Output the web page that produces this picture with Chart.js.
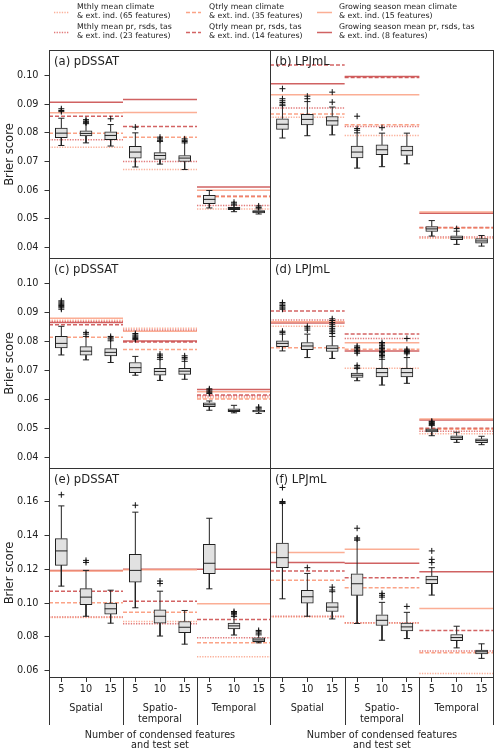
<!DOCTYPE html>
<html><head><meta charset="utf-8">
<script src="https://cdn.jsdelivr.net/npm/chart.js@4.4.1/dist/chart.umd.min.js"></script>
<style>
html,body{margin:0;padding:0;background:#fff;width:500px;height:754px;overflow:hidden;position:relative;font-family:'DejaVu Sans',sans-serif;}
#legendSw{position:absolute;}
.wrap{position:absolute;}
.lg{position:absolute;font-size:7.8px;line-height:8.7px;color:#222;white-space:nowrap;}
</style></head><body>
<canvas id="legendSw" width="500" height="45" style="left:0;top:0"></canvas>
<script>
// ---------------- DATA ----------------
const categories = ['5','10','15','5','10','15','5','10','15'];
const groupLabels = [['Spatial'], ['Spatio-','temporal'], ['Temporal']];
const yTicksUpper = [0.04,0.05,0.06,0.07,0.08,0.09,0.10];
const yTicksLower = [0.06,0.08,0.10,0.12,0.14,0.16];
const seriesNames = [
  ['Mthly mean climate','& ext. ind. (65 features)'],
  ['Mthly mean pr, rsds, tas','& ext. ind. (23 features)'],
  ['Qtrly mean climate','& ext. ind. (35 features)'],
  ['Qtrly mean pr, rsds, tas','& ext. ind. (14 features)'],
  ['Growing season mean climate','& ext. ind. (15 features)'],
  ['Growing season mean pr, rsds, tas','& ext. ind. (8 features)']
];
const panelTitles = ['(a) pDSSAT','(b) LPJmL','(c) pDSSAT','(d) LPJmL','(e) pDSSAT','(f) LPJmL'];

// boxes: [whisker low, q1, median, q3, whisker high] for the 9 boxes
const aBoxes = [[0.0756,0.0783,0.0799,0.0817,0.0851],[0.0765,0.0789,0.0798,0.0807,0.0832],[0.0754,0.0776,0.0791,0.0804,0.0829],
  [0.0681,0.0712,0.0733,0.0753,0.0800],[0.0691,0.0707,0.0721,0.0731,0.0770],[0.0672,0.0700,0.0712,0.0721,0.0765],
  [0.0538,0.0553,0.0568,0.0582,0.0599],[0.0525,0.0532,0.0536,0.0540,0.0548],[0.0517,0.0521,0.0525,0.0529,0.0535]];
const aFliers = [[0.0884,0.0878,0.0874],[0.0846,0.0841,0.0838,0.0835],[0.0849],[0.0820],[0.0785,0.0779,0.0774],[0.0779,0.0774,0.0770],[],[0.0552,0.0558],[0.0540,0.0545]];
// lines per group: [mthly clim, mthly pr, qtrly clim, qtrly pr, gs clim, gs pr]
const aLines = [[0.0750,0.0776,0.0799,0.0858,0.0870,0.0907],[0.0672,0.0700,0.0785,0.0822,0.0871,0.0916],[0.0534,0.0547,0.0577,0.0579,0.0600,0.0611]];

const bBoxes = [[0.0782,0.0812,0.0830,0.0849,0.0895],[0.0790,0.0828,0.0847,0.0865,0.0909],[0.0793,0.0826,0.0842,0.0857,0.0890],
  [0.0677,0.0713,0.0733,0.0754,0.0800],[0.0682,0.0724,0.0741,0.0758,0.0799],[0.0692,0.0721,0.0738,0.0754,0.0799],
  [0.0440,0.0456,0.0465,0.0473,0.0494],[0.0411,0.0427,0.0434,0.0441,0.0457],[0.0405,0.0415,0.0423,0.0431,0.0442]];
const bFliers = [[0.0954,0.0919,0.0912,0.0906,0.0900],[0.0928,0.0919],[0.0942,0.0907],[0.0858,0.0815,0.0809],[0.0818],[],[],[0.0466],[]];
const bLines = [[0.0854,0.0887,0.0866,0.1037,0.0933,0.0971],[0.0791,0.0822,0.0828,0.0993,0.0933,0.0997],[0.0432,0.0437,0.0468,0.0470,0.0524,0.0520]];

const cBoxes = [[0.0754,0.0778,0.0794,0.0818,0.0853],[0.0737,0.0753,0.0767,0.0783,0.0818],[0.0728,0.0751,0.0763,0.0776,0.0803],
  [0.0684,0.0693,0.0710,0.0728,0.0749],[0.0666,0.0684,0.0697,0.0708,0.0739],[0.0670,0.0687,0.0698,0.0708,0.0732],
  [0.0563,0.0575,0.0582,0.0589,0.0595],[0.0554,0.0558,0.0562,0.0568,0.0580],[0.0552,0.0557,0.0560,0.0563,0.0567]];
const cFliers = [[0.0912,0.0917,0.0921,0.0925,0.0929,0.0933,0.0937,0.0941],[0.0832,0.0826],[0.0818,0.0813,0.0809],
  [0.0807,0.0811,0.0815,0.0819,0.0823,0.0828],[0.0757,0.0751,0.0745],[0.0751,0.0745,0.0740],
  [0.0621,0.0625,0.0629,0.0633,0.0637],[],[0.0571,0.0574]];
const cLines = [[0.0874,0.0870,0.0815,0.0858,0.0881,0.0866],[0.0846,0.0840,0.0773,0.0799,0.0836,0.0802],[0.0606,0.0612,0.0602,0.0616,0.0627,0.0635]];

const dBoxes = [[0.0768,0.0783,0.0794,0.0803,0.0826],[0.0745,0.0772,0.0785,0.0797,0.0826],[0.0742,0.0766,0.0777,0.0786,0.0818],
  [0.0665,0.0676,0.0684,0.0691,0.0707],[0.0650,0.0678,0.0693,0.0708,0.0739],[0.0656,0.0678,0.0693,0.0708,0.0745],
  [0.0475,0.0488,0.0494,0.0499,0.0510],[0.0452,0.0461,0.0468,0.0475,0.0487],[0.0444,0.0451,0.0458,0.0464,0.0473]];
const dFliers = [[0.0832,0.0836,0.0912,0.0916,0.0920,0.0925,0.0930,0.0935],[0.0840,0.0847,0.0853],
  [0.0828,0.0834,0.0840,0.0846,0.0853,0.0860,0.0866,0.0873,0.0879],
  [0.0712,0.0718,0.0760,0.0765,0.0770,0.0775,0.0780,0.0785],
  [0.0747,0.0752,0.0757,0.0762,0.0766,0.0771,0.0776,0.0781,0.0786,0.0792,0.0797],
  [0.0758,0.0762,0.0766,0.0770,0.0774,0.0811],[0.0514,0.0517,0.0520,0.0523,0.0525],[],[]];
const dLines = [[0.0853,0.0875,0.0779,0.0906,0.0869,0.0864],[0.0708,0.0811,0.0774,0.0826,0.0796,0.0768],[0.0482,0.0490,0.0497,0.0501,0.0533,0.0529]];

const eBoxes = [[0.1100,0.1223,0.1308,0.1381,0.1574],[0.0922,0.0990,0.1035,0.1085,0.1193],[0.0881,0.0934,0.0966,0.1000,0.1076],
  [0.0972,0.1124,0.1193,0.1288,0.1537],[0.0805,0.0881,0.0922,0.0960,0.1070],[0.0757,0.0825,0.0857,0.0891,0.0956],
  [0.1084,0.1173,0.1235,0.1347,0.1501],[0.0811,0.0847,0.0865,0.0881,0.0920],[0.0765,0.0771,0.0782,0.0794,0.0812]];
const eFliers = [[0.1640],[0.1252,0.1240],[],[0.1578],[0.1130,0.1115],[],[],[0.0930,0.0937,0.0943,0.0950],[0.0822,0.0830,0.0838]];
const eLines = [[0.0914,0.0918,0.1001,0.1070,0.1190,0.1193],[0.0891,0.0877,0.0946,0.1010,0.1197,0.1200],[0.0682,0.0795,0.0765,0.0902,0.0996,0.1200]];

const fBoxes = [[0.1025,0.1209,0.1268,0.1355,0.1588],[0.0922,0.0999,0.1037,0.1075,0.1175],[0.0906,0.0950,0.0976,0.1003,0.1067],
  [0.0879,0.1045,0.1114,0.1173,0.1371],[0.0780,0.0867,0.0898,0.0931,0.1004],[0.0790,0.0835,0.0859,0.0882,0.0945],
  [0.1047,0.1114,0.1138,0.1160,0.1209],[0.0735,0.0778,0.0796,0.0814,0.0863],[0.0673,0.0700,0.0712,0.0722,0.0759]];
const fFliers = [[0.1683,0.1592,0.1596,0.1600],[0.1209],[0.1094,0.1077],[0.1442,0.1378,0.1385],[0.1035,0.1046,0.1057],[0.0980],[0.1308,0.1258,0.1239],[],[]];
const fLines = [[0.0918,0.0922,0.1134,0.1189,0.1298,0.1239],[0.0880,0.0884,0.1090,0.1150,0.1318,0.1235],[0.0584,0.0716,0.0706,0.0837,0.0967,0.1185]];

// ---------------- STYLE ----------------
const lineStyles = [
  {color:'rgba(250,150,120,0.75)', dash:[1.3,1.3]},
  {color:'rgba(215,75,75,0.75)', dash:[1.3,1.3]},
  {color:'rgba(250,140,105,0.8)', dash:[4,2]},
  {color:'rgba(200,60,60,0.8)', dash:[4,2]},
  {color:'rgba(250,160,130,0.85)', dash:[]},
  {color:'rgba(200,70,70,0.85)', dash:[]}
];
const FONT = "'DejaVu Sans', sans-serif";
const INK = '#222';

// legend
(function(){
  const cols = [[54,77],[186,209],[317,339]];
  const ctx = document.getElementById('legendSw').getContext('2d');
  ctx.lineWidth = 1.5;
  for (let k=0;k<6;k++){
    const col = Math.floor(k/2), row = k%2;
    const y = row===0 ? 12.5 : 32.5;
    ctx.strokeStyle = lineStyles[k].color; ctx.setLineDash(lineStyles[k].dash);
    ctx.beginPath(); ctx.moveTo(cols[col][0], y); ctx.lineTo(cols[col][0]+15, y); ctx.stroke();
    const d = document.createElement('div'); d.className='lg';
    d.style.left = cols[col][1]+'px'; d.style.top = (row===0?3:23)+'px';
    d.innerHTML = seriesNames[k][0]+'<br>'+seriesNames[k][1];
    document.body.appendChild(d);
  }
})();

function buildDatasets(boxes, fliers, lines){
  const ds = [];
  lineStyles.forEach((st,k)=>{
    const pts = [];
    lines.forEach((grp,g)=>{ pts.push({x:0.5+3*g,y:grp[k]},{x:3.5+3*g,y:grp[k]},{x:3.5+3*g,y:null}); });
    ds.push({type:'line', data:pts, borderColor:st.color, borderDash:st.dash, borderWidth:1.5, pointRadius:0, showLine:true, spanGaps:false, tension:0, order:10});
  });
  ds.push({type:'bar', data:boxes.map((b,i)=>({x:i+1,y:[b[1],b[3]]})), backgroundColor:'#e1e1e1', borderColor:INK, borderWidth:1, barThickness:12, borderSkipped:false, grouped:false, order:6});
  const wh = [];
  boxes.forEach((b,i)=>{ const x=i+1;
    wh.push({x,y:b[3]},{x,y:b[4]},{x,y:null},{x,y:b[1]},{x,y:b[0]},{x,y:null},
      {x:x-0.125,y:b[4]},{x:x+0.125,y:b[4]},{x,y:null},{x:x-0.125,y:b[0]},{x:x+0.125,y:b[0]},{x,y:null});
  });
  ds.push({type:'line', data:wh, borderColor:INK, borderWidth:1, pointRadius:0, showLine:true, spanGaps:false, tension:0, order:5});
  const md = [];
  boxes.forEach((b,i)=>{ md.push({x:i+1-0.24,y:b[2]},{x:i+1+0.24,y:b[2]},{x:i+1,y:null}); });
  ds.push({type:'line', data:md, borderColor:INK, borderWidth:1, pointRadius:0, showLine:true, spanGaps:false, tension:0, order:4});
  const fl = [];
  fliers.forEach((arr,i)=>arr.forEach(v=>fl.push({x:i+1,y:v})));
  ds.push({type:'scatter', data:fl, pointStyle:'cross', pointRadius:3, borderColor:'#111', borderWidth:1, backgroundColor:'#111', showLine:false, order:3});
  return ds;
}

const framePlugin = {
  id:'frame',
  afterDraw(chart){
    const {ctx, chartArea:a} = chart;
    const o = chart.options.plugins.frame;
    ctx.save();
    ctx.strokeStyle = '#333'; ctx.lineWidth = 1; ctx.setLineDash([]);
    ctx.strokeRect(a.left+0.5, a.top+0.5, a.right-a.left-1, a.bottom-a.top-1);
    ctx.fillStyle = INK; ctx.font = '11.6px '+FONT; ctx.textBaseline='middle'; ctx.textAlign='left';
    ctx.fillText(o.title, a.left+5, a.top+12);
    if (o.bottom){
      const xs = chart.scales.x;
      ctx.font = '9.7px '+FONT; ctx.textAlign='center';
      groupLabels.forEach((ls,g)=>{ const cx = xs.getPixelForValue(2+3*g); ls.forEach((t,k)=>ctx.fillText(t, cx, 240+k*11)); });
      ctx.beginPath();
      for (let g=0; g<=3; g++){ const px = Math.min(Math.round(xs.getPixelForValue(0.5+3*g))+0.5, a.right-0.5); ctx.moveTo(px, a.bottom); ctx.lineTo(px, 257); }
      ctx.stroke();
    }
    ctx.restore();
  }
};

function zeroPad(s){ s.paddingTop = 0; s.paddingBottom = 0; s.paddingLeft = 0; s.paddingRight = 0; }

function makePanel(idx, boxes, fliers, lines, yMin, yMax, yTicks){
  const col = idx%2, row = Math.floor(idx/2);
  const tops = [50, 258, 468], heights = [209, 211, 210];
  const bottom = row===2;
  const left = col===0 ? 0 : 270;
  const width = col===0 ? 272 : 230;
  const height = bottom ? 754-tops[row] : heights[row];
  const wrap = document.createElement('div'); wrap.className='wrap';
  wrap.style.left = left+'px'; wrap.style.top = tops[row]+'px';
  wrap.style.width = width+'px'; wrap.style.height = height+'px';
  const cv = document.createElement('canvas');
  wrap.appendChild(cv);
  document.body.appendChild(wrap);
  new Chart(cv.getContext('2d'), {
    type:'scatter',
    data:{datasets:buildDatasets(boxes, fliers, lines)},
    options:{
      responsive:true, maintainAspectRatio:false, animation:false, devicePixelRatio:1,
      layout:{autoPadding:false, padding:{left:0, right: col===0?1:6, top:0, bottom:0}},
      plugins:{legend:{display:false}, tooltip:{enabled:false}, frame:{title:panelTitles[idx], bottom}},
      scales:{
        x:{type:'linear', min:0.5, max:9.5, display:bottom, offset:false,
           afterBuildTicks:s=>{ s.ticks = categories.map((c,i)=>({value:i+1})); },
           afterFit:s=>{ if (bottom) s.height = 76; else s.height = 0; zeroPad(s); },
           ticks:{autoSkip:false, maxRotation:0, color:INK, font:{family:FONT,size:9.7}, padding:2,
                  callback:(v)=>categories[Math.round(v)-1]},
           grid:{drawOnChartArea:false, drawTicks:true, tickLength:4, color:'#333', offset:false},
           border:{display:false},
           title:{display:true, text:['Number of condensed features','and test set'], color:INK,
                  font:{family:FONT,size:9.7,lineHeight:1.05}, padding:{top:0,bottom:3}}},
        y:{type:'linear', min:yMin, max:yMax, display: col===0, offset:false,
           afterBuildTicks:s=>{ s.ticks = yTicks.map(v=>({value:v})); },
           afterFit:s=>{ s.width = col===0 ? 49 : 0; zeroPad(s); },
           ticks:{color:INK, font:{family:FONT,size:9.7}, padding:6, callback:v=>v.toFixed(2)},
           grid:{drawOnChartArea:false, drawTicks:true, tickLength:4.5, color:'#333'},
           border:{display:false},
           title:{display:true, text:'Brier score', color:INK, font:{family:FONT,size:11.6,lineHeight:1.2}, padding:{top:3,bottom:0}}}
      }
    },
    plugins:[framePlugin]
  });
}

makePanel(0, aBoxes, aFliers, aLines, 0.0360, 0.1089, yTicksUpper);
makePanel(1, bBoxes, bFliers, bLines, 0.0360, 0.1089, yTicksUpper);
makePanel(2, cBoxes, cFliers, cLines, 0.0360, 0.1089, yTicksUpper);
makePanel(3, dBoxes, dFliers, dLines, 0.0360, 0.1089, yTicksUpper);
makePanel(4, eBoxes, eFliers, eLines, 0.0557, 0.1798, yTicksLower);
makePanel(5, fBoxes, fFliers, fLines, 0.0557, 0.1798, yTicksLower);
</script>
</body></html>
